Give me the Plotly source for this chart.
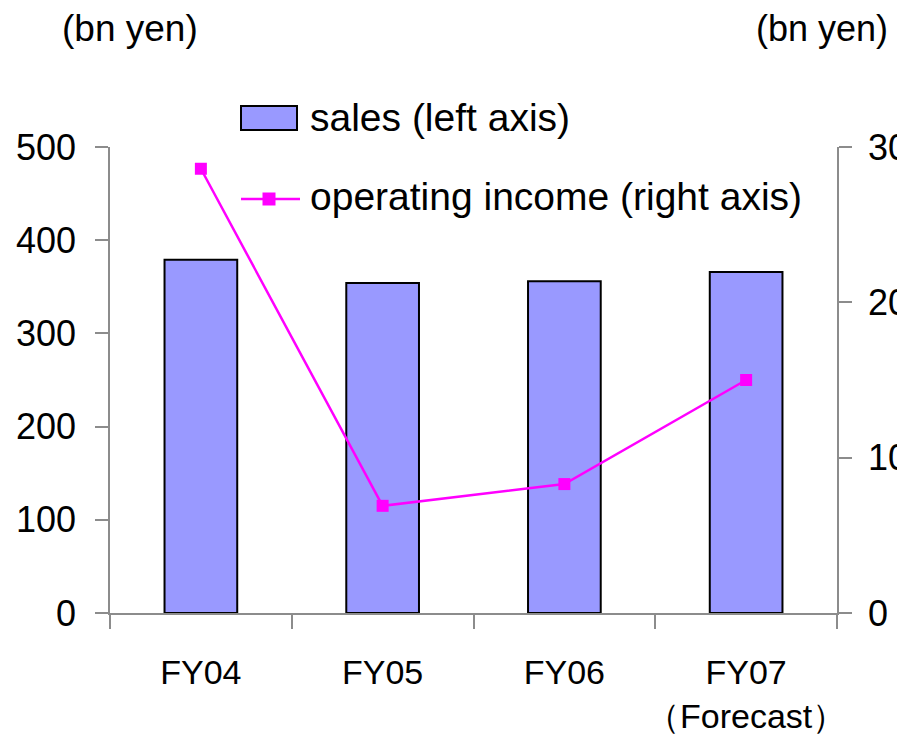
import plotly.graph_objects as go

categories = ["FY04", "FY05", "FY06", "FY07<br>（Forecast）"]
sales = [379, 354, 356, 366]
operating_income = [28.6, 6.9, 8.3, 15.0]
left_ticks = [0, 100, 200, 300, 400, 500]
right_ticks = [0, 10, 20, 30]

OFF = 0  # body margin removed below, figure starts at the window corner
W, H = 897, 740
# plot area in window pixels
X0, X1, Y0, Y1 = 110, 837, 147, 613
L, T = X0 - OFF, Y0 - OFF
R, B = W - (X1 - OFF), H - (Y1 - OFF)
PW, PH = X1 - X0, Y1 - Y0

def px(x):
    return (x - X0) / PW

def py(y):
    return (Y1 - y) / PH

FONT = "Liberation Sans, Arial, sans-serif"
AXC = "#8c8c8c"
BAR = "#9999FF"
MAG = "#FF00FF"

fig = go.Figure()
fig.add_trace(go.Bar(
    x=categories, y=sales, width=0.4, name="sales (left axis)",
    marker=dict(color=BAR, line=dict(color="black", width=2)),
    yaxis="y", showlegend=False,
))
fig.add_trace(go.Scatter(
    x=categories, y=operating_income, mode="lines+markers",
    name="operating income (right axis)",
    line=dict(color=MAG, width=2.5),
    marker=dict(symbol="square", size=12, color=MAG),
    yaxis="y2", showlegend=False,
))

shapes = [
    dict(type="rect", xref="paper", yref="paper",
         x0=px(241), x1=px(297), y0=py(130), y1=py(106),
         fillcolor=BAR, line=dict(color="black", width=2)),
    dict(type="line", xref="paper", yref="paper",
         x0=px(241), x1=px(300), y0=py(199), y1=py(199),
         line=dict(color=MAG, width=2.5)),
    dict(type="rect", xref="paper", yref="paper",
         x0=px(262.5), x1=px(275.5), y0=py(205.5), y1=py(192.5),
         fillcolor=MAG, line=dict(color=MAG, width=0)),
]

annotations = [
    dict(text="sales (left axis)", xref="paper", yref="paper",
         x=px(308), y=py(118), xanchor="left", yanchor="middle",
         showarrow=False, font=dict(family=FONT, size=39, color="black")),
    dict(text="operating income (right axis)", xref="paper", yref="paper",
         x=px(308), y=py(197), xanchor="left", yanchor="middle",
         showarrow=False, font=dict(family=FONT, size=39, color="black")),
    dict(text="(bn yen)", xref="paper", yref="paper",
         x=px(130), y=py(28), xanchor="center", yanchor="middle",
         showarrow=False, font=dict(family=FONT, size=37, color="black")),
    dict(text="(bn yen)", xref="paper", yref="paper",
         x=px(822), y=py(28), xanchor="center", yanchor="middle",
         showarrow=False, font=dict(family=FONT, size=36, color="black")),
]

fig.update_layout(
    width=W, height=H,
    margin=dict(l=L, r=R, t=T, b=B, pad=0),
    paper_bgcolor="white", plot_bgcolor="white",
    bargap=0.6,
    shapes=shapes, annotations=annotations,
    xaxis=dict(
        type="category", showgrid=False, zeroline=False, automargin=False,
        showline=True, linecolor=AXC, linewidth=1.5, tickangle=0,
        ticks="outside", tickson="boundaries", ticklen=14, tickcolor=AXC, tickwidth=1.5,
        tickfont=dict(family=FONT, size=34, color="black"),
        ticklabelstandoff=28,
    ),
    yaxis=dict(
        range=[0, 500], tickvals=left_ticks, showgrid=False, zeroline=False,
        automargin=False,
        showline=True, linecolor=AXC, linewidth=1.5,
        ticks="outside", ticklen=13, tickcolor=AXC, tickwidth=1.5,
        tickfont=dict(family=FONT, size=36, color="black"),
        ticklabelstandoff=12,
    ),
    yaxis2=dict(
        range=[0, 30], tickvals=right_ticks, overlaying="y", side="right",
        showgrid=False, zeroline=False, automargin=False,
        showline=True, linecolor=AXC, linewidth=1.5,
        ticks="outside", ticklen=13, tickcolor=AXC, tickwidth=1.5,
        tickfont=dict(family=FONT, size=36, color="black"),
        ticklabelstandoff=9,
    ),
)

fig.write_html(
    "out.html",
    config={"displayModeBar": False},
    post_script="document.body.style.margin='0';document.body.style.overflow='hidden';",
)
